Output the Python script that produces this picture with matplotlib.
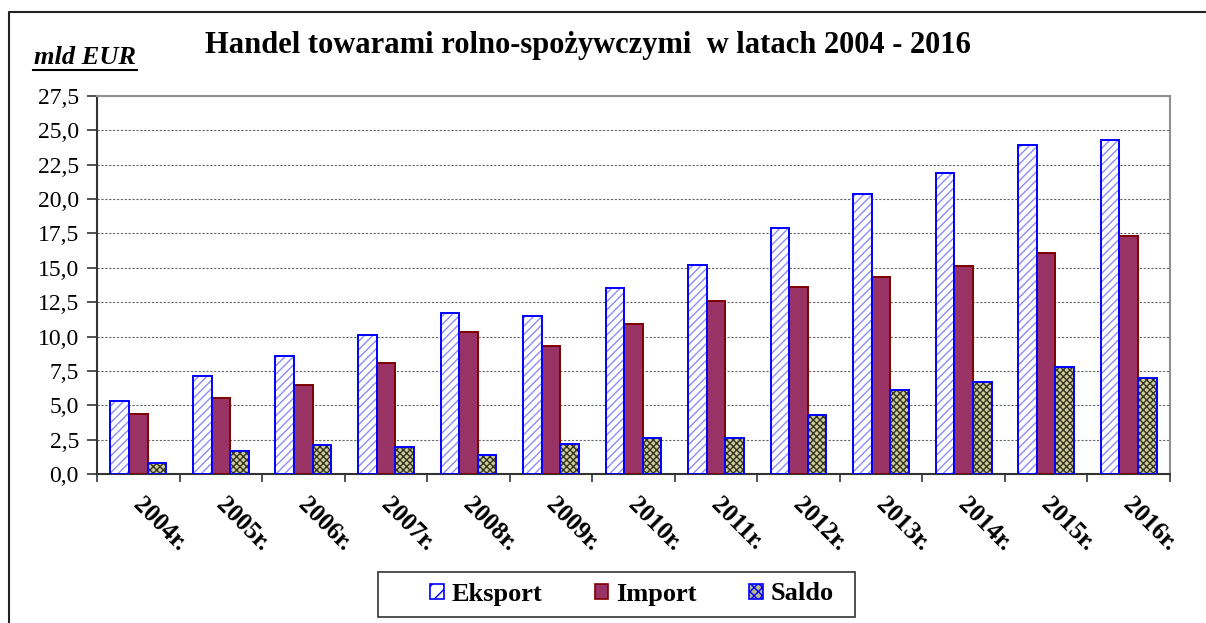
import matplotlib
matplotlib.use('Agg')
import matplotlib.pyplot as plt
import numpy as np
from matplotlib.lines import Line2D
from matplotlib.patches import Patch, Rectangle

# Handel towarami rolno-spożywczymi, mld EUR
YEARS = ['2004r.', '2005r.', '2006r.', '2007r.', '2008r.', '2009r.', '2010r.',
         '2011r.', '2012r.', '2013r.', '2014r.', '2015r.', '2016r.']
EKSPORT = [5.3, 7.1, 8.6, 10.1, 11.7, 11.5, 13.5, 15.2, 17.9, 20.4, 21.9, 23.9, 24.3]
IMPORT = [4.4, 5.5, 6.5, 8.1, 10.3, 9.3, 10.9, 12.6, 13.6, 14.3, 15.1, 16.1, 17.3]
SALDO = [0.8, 1.7, 2.1, 2.0, 1.4, 2.2, 2.6, 2.6, 4.3, 6.1, 6.7, 7.8, 7.0]
Y_TICKS = [0, 2.5, 5, 7.5, 10, 12.5, 15, 17.5, 20, 22.5, 25, 27.5]

SERIF = ['Liberation Serif', 'DejaVu Serif']
plt.rcParams['font.family'] = SERIF
plt.rcParams['hatch.linewidth'] = 1.0

W, H = 1206, 623
fig = plt.figure(figsize=(W / 100, H / 100), dpi=100)
ax = fig.add_axes([97 / W, 1 - 474 / H, (1170 - 97) / W, (474 - 96) / H])

x = np.arange(len(YEARS))
bw = 0.225

# Eksport: white with light-blue diagonal hatch, blue edge
ax.bar(x - bw, EKSPORT, bw, color='white', edgecolor='#8c8cff', hatch='////', linewidth=0, zorder=3)
ax.bar(x - bw, EKSPORT, bw, fill=False, edgecolor='#0000ff', linewidth=1.4, zorder=4)
# Import: plum with dark red edge
ax.bar(x, IMPORT, bw, color='#993366', edgecolor='#800000', linewidth=1.4, zorder=3)
# Saldo: checkered olive with blue edge
ax.bar(x + bw, SALDO, bw, color='#cfcc9c', edgecolor='#33331f', hatch='xxxxx', linewidth=0, zorder=3)
ax.bar(x + bw, SALDO, bw, fill=False, edgecolor='#0000ff', linewidth=1.4, zorder=4)

ax.set_xlim(-0.5, len(YEARS) - 0.5)
ax.set_ylim(0, 27.5)
ax.set_yticks(Y_TICKS)
ax.set_yticklabels([f'{v:.1f}'.replace('.', ',') for v in Y_TICKS], fontsize=17)
ax.yaxis.grid(True, linestyle=(0, (2, 1.5)), color='#666666', linewidth=0.8, zorder=0)
ax.set_axisbelow(True)

# category boundaries as ticks, labels placed at centres
ax.set_xticks(np.arange(len(YEARS) + 1) - 0.5)
ax.set_xticklabels([])
ax.tick_params(axis='x', direction='out', length=6, width=1.2, color='#333333')
ax.tick_params(axis='y', direction='out', length=7, width=1.2, color='#333333', pad=6)
for i, lab in enumerate(YEARS):
    ax.text(i - 0.02, -2.0, lab, rotation=-45, rotation_mode='anchor', ha='left', va='center',
            fontsize=18, fontweight='bold', family=SERIF)

for s in ['left', 'bottom']:
    ax.spines[s].set_color('#333333')
    ax.spines[s].set_linewidth(1.5)
for s in ['top', 'right']:
    ax.spines[s].set_color('#909090')
    ax.spines[s].set_linewidth(1.5)

fig.text(588 / W, 1 - 46 / H, 'Handel towarami rolno-spożywczymi  w latach 2004 - 2016',
         ha='center', va='center', fontsize=22, fontweight='bold')
fig.text(34 / W, 1 - 57 / H, 'mld EUR', ha='left', va='center', fontsize=19,
         fontweight='bold', style='italic')
fig.add_artist(Line2D([33 / W, 137 / W], [1 - 70 / H, 1 - 70 / H], color='black', linewidth=1.5))

# outer frame (cut off on right and bottom)
fig.add_artist(Line2D([9 / W, 9 / W, 1.0], [0.0, 1 - 12 / H, 1 - 12 / H], color='#222222', linewidth=1.5))

# legend box drawn separately so the entries can sit centred inside it
fig.add_artist(Rectangle((378 / W, 1 - 617 / H), (855 - 378) / W, (617 - 572) / H,
                         transform=fig.transFigure, fill=False, edgecolor='#333333', linewidth=1.2))
handles = [
    Patch(facecolor='white', edgecolor='#0000ff', hatch='//', linewidth=1.2),
    Patch(facecolor='#993366', edgecolor='#800000', linewidth=1.2),
    Patch(facecolor='#b8b590', edgecolor='#0000ff', hatch='xxxx', linewidth=1.2),
]
fig.legend(handles, ['Eksport', 'Import', 'Saldo'], loc='center',
           bbox_to_anchor=(632 / W, 1 - 594 / H), ncol=3, frameon=False,
           prop={'family': SERIF, 'weight': 'bold', 'size': 19}, handlelength=0.5,
           handleheight=0.5, columnspacing=2.0, handletextpad=0.3)

fig.savefig('out.png', dpi=100)
